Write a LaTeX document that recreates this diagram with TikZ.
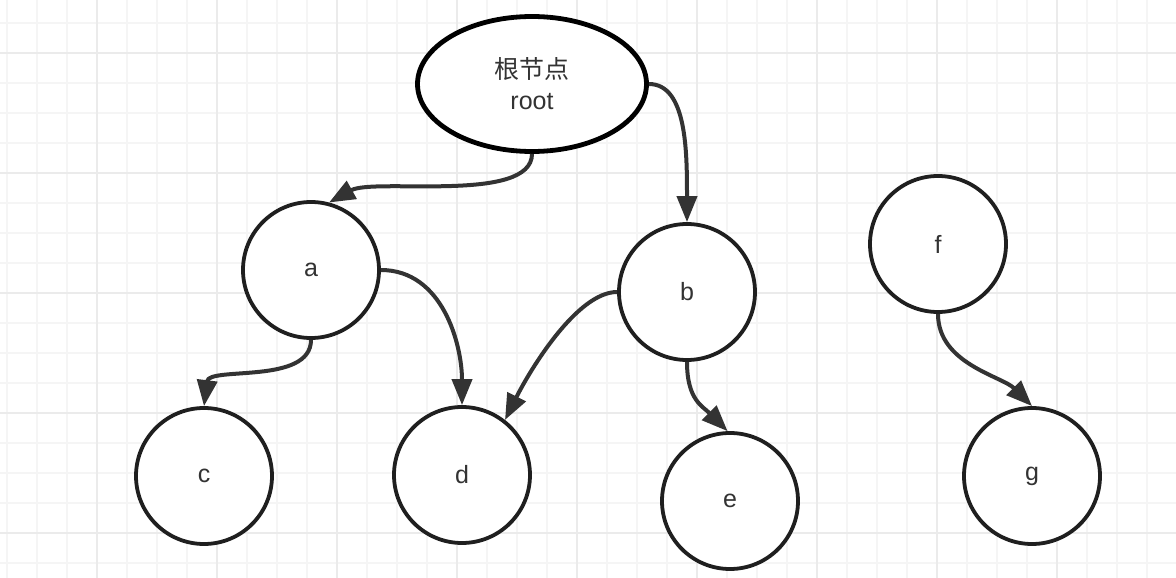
\documentclass[tikz,border=0pt]{standalone}
\usepackage{fontspec}
\setmainfont{Liberation Sans}
\newfontfamily\cjk{Noto Sans CJK SC}
\usetikzlibrary{arrows.meta, shapes.geometric}

\definecolor{gridminor}{HTML}{F5F5F5}
\definecolor{gridmajor}{HTML}{EBEBEB}
\definecolor{inkgray}{HTML}{333333}

\begin{document}
\begin{tikzpicture}[
  x=1pt, y=-1pt,
  tree node/.style={
    circle,
    draw=black!88,
    line width=3.8pt,
    fill=white,
    minimum size=136pt,
    inner sep=0pt,
    text=inkgray,
    font=\fontsize{25}{31}\selectfont
  },
  root node/.style={
    ellipse,
    draw=black,
    line width=4.8pt,
    fill=white,
    minimum width=229pt,
    minimum height=135pt,
    align=center,
    inner sep=0pt,
    text=inkgray,
    font=\fontsize{25}{31}\selectfont
  },
  tree arrow/.style={
    -{Triangle[length=26pt,width=20pt]},
    line width=4pt,
    draw=inkgray
  },
  grid minor/.style={gridminor, line width=2pt},
  grid major/.style={gridmajor, line width=2.2pt}
]

% background grid
\fill[white] (0,0) rectangle (1176,578);
\useasboundingbox (0,0) rectangle (1176,578);
\foreach \x in {6.7,36.7,...,1176} \draw[grid minor] (\x,0) -- (\x,578);
\foreach \y in {22.7,52.7,...,578} \draw[grid minor] (0,\y) -- (1176,\y);
\foreach \x in {96.7,216.7,...,1176} \draw[grid major] (\x,0) -- (\x,578);
\foreach \y in {52.7,172.7,...,578} \draw[grid major] (0,\y) -- (1176,\y);

% nodes
\node[root node] (root) at (532, 84) {{\cjk 根节点}\\root};
\node[tree node] (a) at (311, 270) {a};
\node[tree node] (b) at (687, 292) {b};
\node[tree node] (c) at (204, 476) {c};
\node[tree node] (d) at (462, 475) {d};
\node[tree node] (e) at (730, 501) {e};
\node[tree node] (f) at (938, 244) {f};
\node[tree node] (g) at (1032, 476) {g};

% edges
\draw[tree arrow] (root.south) .. controls +(0,50) and +(45,-25) .. (a.75);
\draw[tree arrow] (root.east) .. controls +(38,0) and +(0,-70) .. (b.north);
\draw[tree arrow] (a.east) .. controls +(62,0) and +(0,-60) .. (d.north);
\draw[tree arrow] (a.south) .. controls +(0,45) and +(5,-40) .. (c.north);
\draw[tree arrow] (b.west) .. controls +(-40,0) and +(25,-50) .. (d.52);
\draw[tree arrow] (b.south) .. controls +(0,38) and +(-25,-25) .. (e.92);
\draw[tree arrow] (f.south) .. controls +(0,50) and +(-30,-30) .. (g.north);

\end{tikzpicture}
\end{document}
